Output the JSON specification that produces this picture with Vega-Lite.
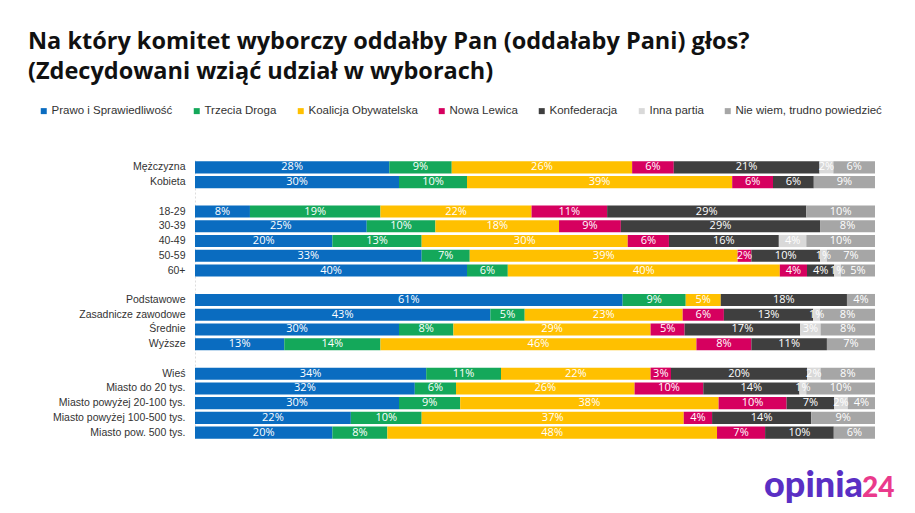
{
  "$schema": "https://vega.github.io/schema/vega-lite/v6.json",
  "autosize": {"type": "none"},
  "width": 680,
  "height": 280,
  "padding": {"left": 195, "top": 160, "right": 40, "bottom": 73},
  "background": "white",
  "title": {
    "text": ["Na który komitet wyborczy oddałby Pan (oddałaby Pani) głos?", "(Zdecydowani wziąć udział w wyborach)"],
    "anchor": "start",
    "frame": "group",
    "orient": "top",
    "dx": -167,
    "offset": 22,
    "font": "Open Sans",
    "fontSize": 23.5,
    "fontWeight": 700,
    "lineHeight": 30,
    "color": "#111111"
  },
  "datasets": {
    "survey": [
      {"g": "Mężczyzna", "p": "Prawo i Sprawiedliwość", "i": 1, "v": 0.28},
      {"g": "Mężczyzna", "p": "Trzecia Droga", "i": 2, "v": 0.09},
      {"g": "Mężczyzna", "p": "Koalicja Obywatelska", "i": 3, "v": 0.26},
      {"g": "Mężczyzna", "p": "Nowa Lewica", "i": 4, "v": 0.06},
      {"g": "Mężczyzna", "p": "Konfederacja", "i": 5, "v": 0.21},
      {"g": "Mężczyzna", "p": "Inna partia", "i": 6, "v": 0.02},
      {"g": "Mężczyzna", "p": "Nie wiem, trudno powiedzieć", "i": 7, "v": 0.06},
      {"g": "Kobieta", "p": "Prawo i Sprawiedliwość", "i": 1, "v": 0.30},
      {"g": "Kobieta", "p": "Trzecia Droga", "i": 2, "v": 0.10},
      {"g": "Kobieta", "p": "Koalicja Obywatelska", "i": 3, "v": 0.39},
      {"g": "Kobieta", "p": "Nowa Lewica", "i": 4, "v": 0.06},
      {"g": "Kobieta", "p": "Konfederacja", "i": 5, "v": 0.06},
      {"g": "Kobieta", "p": "Nie wiem, trudno powiedzieć", "i": 7, "v": 0.09},
      {"g": "18-29", "p": "Prawo i Sprawiedliwość", "i": 1, "v": 0.08},
      {"g": "18-29", "p": "Trzecia Droga", "i": 2, "v": 0.19},
      {"g": "18-29", "p": "Koalicja Obywatelska", "i": 3, "v": 0.22},
      {"g": "18-29", "p": "Nowa Lewica", "i": 4, "v": 0.11},
      {"g": "18-29", "p": "Konfederacja", "i": 5, "v": 0.29},
      {"g": "18-29", "p": "Nie wiem, trudno powiedzieć", "i": 7, "v": 0.10},
      {"g": "30-39", "p": "Prawo i Sprawiedliwość", "i": 1, "v": 0.25},
      {"g": "30-39", "p": "Trzecia Droga", "i": 2, "v": 0.10},
      {"g": "30-39", "p": "Koalicja Obywatelska", "i": 3, "v": 0.18},
      {"g": "30-39", "p": "Nowa Lewica", "i": 4, "v": 0.09},
      {"g": "30-39", "p": "Konfederacja", "i": 5, "v": 0.29},
      {"g": "30-39", "p": "Nie wiem, trudno powiedzieć", "i": 7, "v": 0.08},
      {"g": "40-49", "p": "Prawo i Sprawiedliwość", "i": 1, "v": 0.20},
      {"g": "40-49", "p": "Trzecia Droga", "i": 2, "v": 0.13},
      {"g": "40-49", "p": "Koalicja Obywatelska", "i": 3, "v": 0.30},
      {"g": "40-49", "p": "Nowa Lewica", "i": 4, "v": 0.06},
      {"g": "40-49", "p": "Konfederacja", "i": 5, "v": 0.16},
      {"g": "40-49", "p": "Inna partia", "i": 6, "v": 0.04},
      {"g": "40-49", "p": "Nie wiem, trudno powiedzieć", "i": 7, "v": 0.10},
      {"g": "50-59", "p": "Prawo i Sprawiedliwość", "i": 1, "v": 0.33},
      {"g": "50-59", "p": "Trzecia Droga", "i": 2, "v": 0.07},
      {"g": "50-59", "p": "Koalicja Obywatelska", "i": 3, "v": 0.39},
      {"g": "50-59", "p": "Nowa Lewica", "i": 4, "v": 0.02},
      {"g": "50-59", "p": "Konfederacja", "i": 5, "v": 0.10},
      {"g": "50-59", "p": "Inna partia", "i": 6, "v": 0.01},
      {"g": "50-59", "p": "Nie wiem, trudno powiedzieć", "i": 7, "v": 0.07},
      {"g": "60+", "p": "Prawo i Sprawiedliwość", "i": 1, "v": 0.40},
      {"g": "60+", "p": "Trzecia Droga", "i": 2, "v": 0.06},
      {"g": "60+", "p": "Koalicja Obywatelska", "i": 3, "v": 0.40},
      {"g": "60+", "p": "Nowa Lewica", "i": 4, "v": 0.04},
      {"g": "60+", "p": "Konfederacja", "i": 5, "v": 0.04},
      {"g": "60+", "p": "Inna partia", "i": 6, "v": 0.01},
      {"g": "60+", "p": "Nie wiem, trudno powiedzieć", "i": 7, "v": 0.05},
      {"g": "Podstawowe", "p": "Prawo i Sprawiedliwość", "i": 1, "v": 0.61},
      {"g": "Podstawowe", "p": "Trzecia Droga", "i": 2, "v": 0.09},
      {"g": "Podstawowe", "p": "Koalicja Obywatelska", "i": 3, "v": 0.05},
      {"g": "Podstawowe", "p": "Konfederacja", "i": 5, "v": 0.18},
      {"g": "Podstawowe", "p": "Nie wiem, trudno powiedzieć", "i": 7, "v": 0.04},
      {"g": "Zasadnicze zawodowe", "p": "Prawo i Sprawiedliwość", "i": 1, "v": 0.43},
      {"g": "Zasadnicze zawodowe", "p": "Trzecia Droga", "i": 2, "v": 0.05},
      {"g": "Zasadnicze zawodowe", "p": "Koalicja Obywatelska", "i": 3, "v": 0.23},
      {"g": "Zasadnicze zawodowe", "p": "Nowa Lewica", "i": 4, "v": 0.06},
      {"g": "Zasadnicze zawodowe", "p": "Konfederacja", "i": 5, "v": 0.13},
      {"g": "Zasadnicze zawodowe", "p": "Inna partia", "i": 6, "v": 0.01},
      {"g": "Zasadnicze zawodowe", "p": "Nie wiem, trudno powiedzieć", "i": 7, "v": 0.08},
      {"g": "Średnie", "p": "Prawo i Sprawiedliwość", "i": 1, "v": 0.30},
      {"g": "Średnie", "p": "Trzecia Droga", "i": 2, "v": 0.08},
      {"g": "Średnie", "p": "Koalicja Obywatelska", "i": 3, "v": 0.29},
      {"g": "Średnie", "p": "Nowa Lewica", "i": 4, "v": 0.05},
      {"g": "Średnie", "p": "Konfederacja", "i": 5, "v": 0.17},
      {"g": "Średnie", "p": "Inna partia", "i": 6, "v": 0.03},
      {"g": "Średnie", "p": "Nie wiem, trudno powiedzieć", "i": 7, "v": 0.08},
      {"g": "Wyższe", "p": "Prawo i Sprawiedliwość", "i": 1, "v": 0.13},
      {"g": "Wyższe", "p": "Trzecia Droga", "i": 2, "v": 0.14},
      {"g": "Wyższe", "p": "Koalicja Obywatelska", "i": 3, "v": 0.46},
      {"g": "Wyższe", "p": "Nowa Lewica", "i": 4, "v": 0.08},
      {"g": "Wyższe", "p": "Konfederacja", "i": 5, "v": 0.11},
      {"g": "Wyższe", "p": "Nie wiem, trudno powiedzieć", "i": 7, "v": 0.07},
      {"g": "Wieś", "p": "Prawo i Sprawiedliwość", "i": 1, "v": 0.34},
      {"g": "Wieś", "p": "Trzecia Droga", "i": 2, "v": 0.11},
      {"g": "Wieś", "p": "Koalicja Obywatelska", "i": 3, "v": 0.22},
      {"g": "Wieś", "p": "Nowa Lewica", "i": 4, "v": 0.03},
      {"g": "Wieś", "p": "Konfederacja", "i": 5, "v": 0.20},
      {"g": "Wieś", "p": "Inna partia", "i": 6, "v": 0.02},
      {"g": "Wieś", "p": "Nie wiem, trudno powiedzieć", "i": 7, "v": 0.08},
      {"g": "Miasto do 20 tys.", "p": "Prawo i Sprawiedliwość", "i": 1, "v": 0.32},
      {"g": "Miasto do 20 tys.", "p": "Trzecia Droga", "i": 2, "v": 0.06},
      {"g": "Miasto do 20 tys.", "p": "Koalicja Obywatelska", "i": 3, "v": 0.26},
      {"g": "Miasto do 20 tys.", "p": "Nowa Lewica", "i": 4, "v": 0.10},
      {"g": "Miasto do 20 tys.", "p": "Konfederacja", "i": 5, "v": 0.14},
      {"g": "Miasto do 20 tys.", "p": "Inna partia", "i": 6, "v": 0.01},
      {"g": "Miasto do 20 tys.", "p": "Nie wiem, trudno powiedzieć", "i": 7, "v": 0.10},
      {"g": "Miasto powyżej 20-100 tys.", "p": "Prawo i Sprawiedliwość", "i": 1, "v": 0.30},
      {"g": "Miasto powyżej 20-100 tys.", "p": "Trzecia Droga", "i": 2, "v": 0.09},
      {"g": "Miasto powyżej 20-100 tys.", "p": "Koalicja Obywatelska", "i": 3, "v": 0.38},
      {"g": "Miasto powyżej 20-100 tys.", "p": "Nowa Lewica", "i": 4, "v": 0.10},
      {"g": "Miasto powyżej 20-100 tys.", "p": "Konfederacja", "i": 5, "v": 0.07},
      {"g": "Miasto powyżej 20-100 tys.", "p": "Inna partia", "i": 6, "v": 0.02},
      {"g": "Miasto powyżej 20-100 tys.", "p": "Nie wiem, trudno powiedzieć", "i": 7, "v": 0.04},
      {"g": "Miasto powyżej 100-500 tys.", "p": "Prawo i Sprawiedliwość", "i": 1, "v": 0.22},
      {"g": "Miasto powyżej 100-500 tys.", "p": "Trzecia Droga", "i": 2, "v": 0.10},
      {"g": "Miasto powyżej 100-500 tys.", "p": "Koalicja Obywatelska", "i": 3, "v": 0.37},
      {"g": "Miasto powyżej 100-500 tys.", "p": "Nowa Lewica", "i": 4, "v": 0.04},
      {"g": "Miasto powyżej 100-500 tys.", "p": "Konfederacja", "i": 5, "v": 0.14},
      {"g": "Miasto powyżej 100-500 tys.", "p": "Nie wiem, trudno powiedzieć", "i": 7, "v": 0.09},
      {"g": "Miasto pow. 500 tys.", "p": "Prawo i Sprawiedliwość", "i": 1, "v": 0.20},
      {"g": "Miasto pow. 500 tys.", "p": "Trzecia Droga", "i": 2, "v": 0.08},
      {"g": "Miasto pow. 500 tys.", "p": "Koalicja Obywatelska", "i": 3, "v": 0.48},
      {"g": "Miasto pow. 500 tys.", "p": "Nowa Lewica", "i": 4, "v": 0.07},
      {"g": "Miasto pow. 500 tys.", "p": "Konfederacja", "i": 5, "v": 0.10},
      {"g": "Miasto pow. 500 tys.", "p": "Nie wiem, trudno powiedzieć", "i": 7, "v": 0.06}
    ],
    "logo": [{"a": "opinia", "b": "24"}]
  },
  "layer": [
    {
      "data": {"name": "survey"},
      "transform": [
        {"stack": "v", "groupby": ["g"], "sort": [{"field": "i", "order": "ascending"}], "as": ["x0", "x1"], "offset": "normalize"}
      ],
      "mark": {"type": "bar"},
      "encoding": {
        "y": {
          "field": "g",
          "type": "nominal",
          "scale": {
            "domain": ["Mężczyzna", "Kobieta", " ", "18-29", "30-39", "40-49", "50-59", "60+", "  ", "Podstawowe", "Zasadnicze zawodowe", "Średnie", "Wyższe", "   ", "Wieś", "Miasto do 20 tys.", "Miasto powyżej 20-100 tys.", "Miasto powyżej 100-500 tys.", "Miasto pow. 500 tys."],
            "paddingInner": 0.18,
            "paddingOuter": 0.09
          },
          "axis": {
            "title": null,
            "ticks": false,
            "domain": true,
            "domainColor": "#dddddd",
            "domainDash": [2, 2],
            "labelPadding": 10,
            "labelFont": "Liberation Sans",
            "labelFontSize": 10.5,
            "labelColor": "#333333"
          }
        },
        "x": {"field": "x0", "type": "quantitative", "scale": {"domain": [0, 1]}, "axis": null},
        "x2": {"field": "x1"},
        "color": {
          "field": "p",
          "type": "nominal",
          "scale": {
            "domain": ["Prawo i Sprawiedliwość", "Trzecia Droga", "Koalicja Obywatelska", "Nowa Lewica", "Konfederacja", "Inna partia", "Nie wiem, trudno powiedzieć"],
            "range": ["#0a6cc0", "#14a85a", "#ffc000", "#d6005f", "#3f3f3f", "#d9d9d9", "#a6a6a6"]
          },
          "legend": {
            "title": null,
            "orient": "none",
            "direction": "horizontal",
            "legendX": -157,
            "legendY": -55,
            "symbolType": "square",
            "symbolSize": 36,
            "symbolStrokeWidth": 0,
            "labelFont": "Liberation Sans",
            "labelFontSize": 11.5,
            "labelColor": "#333333",
            "labelOffset": 2,
            "columnPadding": 18,
            "labelLimit": 300
          }
        }
      }
    },
    {
      "data": {"name": "survey"},
      "transform": [
        {"stack": "v", "groupby": ["g"], "sort": [{"field": "i", "order": "ascending"}], "as": ["x0", "x1"], "offset": "normalize"},
        {"calculate": "(datum.x0 + datum.x1) / 2", "as": "xm"}
      ],
      "mark": {"type": "text", "color": "white", "font": "Open Sans", "fontSize": 11, "baseline": "middle", "align": "center"},
      "encoding": {
        "y": {"field": "g", "type": "nominal"},
        "x": {"field": "xm", "type": "quantitative"},
        "text": {"field": "v", "type": "quantitative", "format": ".0%"}
      }
    },
    {
      "data": {"name": "logo"},
      "mark": {"type": "text", "align": "right", "baseline": "alphabetic", "x": {"expr": "width - 12"}, "y": {"expr": "height + 57"}, "font": "Lato", "fontWeight": 900, "fontSize": 36, "color": "#5a2fc4"},
      "encoding": {"text": {"field": "a"}}
    },
    {
      "data": {"name": "logo"},
      "mark": {"type": "text", "align": "left", "baseline": "alphabetic", "x": {"expr": "width - 13"}, "y": {"expr": "height + 57"}, "font": "Lato", "fontWeight": 900, "fontSize": 28, "color": "#ea3a8c"},
      "encoding": {"text": {"field": "b"}}
    }
  ],
  "config": {"view": {"stroke": null}}
}
